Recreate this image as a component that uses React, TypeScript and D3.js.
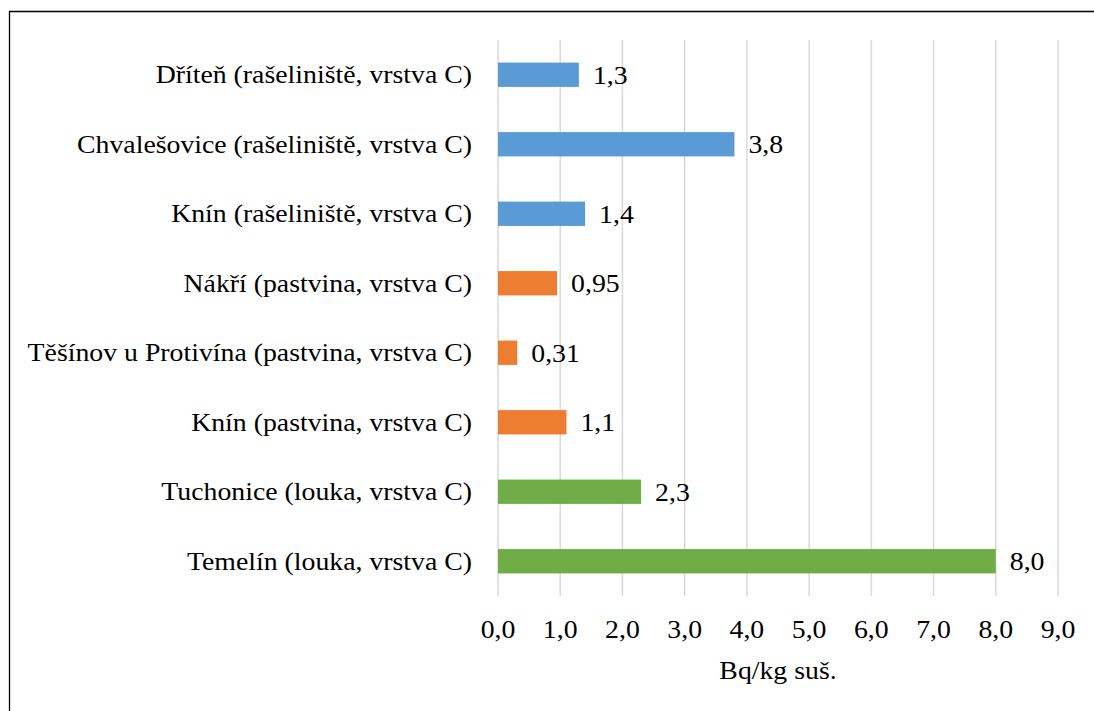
import React from "react";
import * as d3 from "d3";

// Sites (top to bottom), measured values and their printed labels
const categories: string[] = [
  "Dříteň (rašeliniště, vrstva C)",
  "Chvalešovice (rašeliniště, vrstva C)",
  "Knín (rašeliniště, vrstva C)",
  "Nákří (pastvina, vrstva C)",
  "Těšínov u Protivína (pastvina, vrstva C)",
  "Knín (pastvina, vrstva C)",
  "Tuchonice (louka, vrstva C)",
  "Temelín (louka, vrstva C)",
];
const values: number[] = [1.3, 3.8, 1.4, 0.95, 0.31, 1.1, 2.3, 8.0];
const valueLabels: string[] = ["1,3", "3,8", "1,4", "0,95", "0,31", "1,1", "2,3", "8,0"];
const landUse: string[] = [
  "rašeliniště", "rašeliniště", "rašeliniště",
  "pastvina", "pastvina", "pastvina",
  "louka", "louka",
];
const ticks: number[] = [0, 1, 2, 3, 4, 5, 6, 7, 8, 9];
const axisTitle = "Bq/kg suš.";

const colorByUse: Record<string, string> = {
  "rašeliniště": "#5B9BD5",
  pastvina: "#ED7D31",
  louka: "#70AD47",
};

const W = 1094;
const H = 711;
const FONT = "'Liberation Serif', 'Times New Roman', serif";
const FS = 25.5;
const SX = 1.09;

export default function App() {
  const x = d3.scaleLinear().domain([0, 9]).range([498, 1058]);
  const y = d3
    .scaleBand<string>()
    .domain(categories)
    .range([40, 596])
    .paddingInner(0.65)
    .paddingOuter(0.325);
  const fmt = (v: number) => d3.format(".1f")(v).replace(".", ",");

  const label = (
    key: string,
    tx: number,
    ty: number,
    text: string,
    anchor: "start" | "middle" | "end"
  ) => (
    <text
      key={key}
      transform={`translate(${tx},${ty}) scale(${SX},1)`}
      textAnchor={anchor}
      fontFamily={FONT}
      fontSize={FS}
      fill="#000"
    >
      {text}
    </text>
  );

  return (
    <svg
      width={W}
      height={H}
      style={{ position: "absolute", left: 0, top: 0, background: "#fff" }}
    >
      <rect x={0} y={0} width={W} height={H} fill="#fff" />
      {/* chart frame */}
      <path d={`M9.5,${H + 2} V11.5 H${W + 2}`} fill="none" stroke="#000" strokeWidth={1.3} />

      {/* vertical gridlines */}
      {ticks.map((t) => (
        <line
          key={`g${t}`}
          x1={x(t)}
          x2={x(t)}
          y1={40}
          y2={596}
          stroke="#D9D9D9"
          strokeWidth={1.5}
        />
      ))}

      {/* bars */}
      {categories.map((c, i) => (
        <rect
          key={`b${i}`}
          x={x(0)}
          y={y(c)!}
          width={x(values[i]) - x(0)}
          height={y.bandwidth()}
          fill={colorByUse[landUse[i]]}
        />
      ))}

      {/* value labels */}
      {categories.map((c, i) =>
        label(`v${i}`, x(values[i]) + 14, y(c)! + y.bandwidth() / 2 + 9, valueLabels[i], "start")
      )}

      {/* category labels */}
      {categories.map((c, i) =>
        label(`c${i}`, 472, y(c)! + y.bandwidth() / 2 + 8.5, c, "end")
      )}

      {/* tick labels */}
      {ticks.map((t) => label(`t${t}`, x(t), 638, fmt(t), "middle"))}

      {/* axis title */}
      {label("title", (x(0) + x(9)) / 2, 679, axisTitle, "middle")}
    </svg>
  );
}
